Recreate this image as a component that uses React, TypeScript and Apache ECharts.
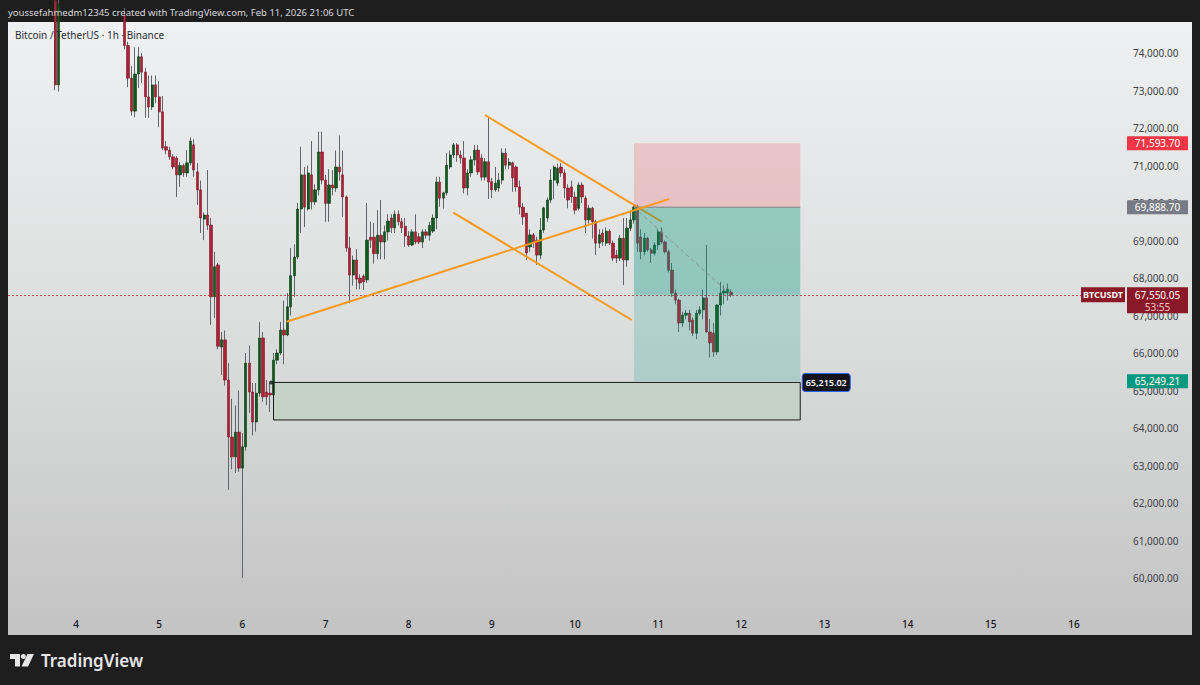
import React, { useEffect, useRef } from "react";
import * as echarts from "echarts";

// ---- data (hours are counted from Feb 4 00:00 UTC, one candle per hour) ----
const FIRST_HOUR = -6; // first listed candle: Feb 3 18:00 UTC
const N = null;

// idx13-14, 15-32 (above the visible range), then 33..208
const opens: (number | null)[] = [
  75400, 73150,
  N, N, N, N, N, N, N, N, N, N, N, N, N, N, N, N, N, N,
  75000, 74200, 73330, 72450, 73440, 73900, 73490, 72830, 72560, 73150,
  72830, 72430, 71500, 71410, 71230, 71200, 70750, 71000, 70800, 71070,
  71550, 70830, 70350, 69570, 69680, 69410, 67500, 68350, 66160, 66350,
  65280, 63760, 63230, 63890, 62930, 63500, 65730, 64960, 64160, 64930,
  66400, 64960, 64930, 64880, 65810, 66000, 66610, 66480, 67230, 68060,
  68560, 69840, 70750, 69840, 70750, 70030, 70350, 71360, 70610, 69990,
  70480, 70400, 70960, 70750, 70160, 68800, 68080, 68480, 68000, 68050,
  67950, 69090, 69090, 68650, 69140, 68960, 69230, 69600, 69340, 69700,
  69500, 69380, 69120, 68880, 69230, 69100, 68960, 69230, 69140, 69250,
  69600, 70560, 70130, 70270, 70960, 71280, 71550, 71280, 71200, 70400,
  70800, 71150, 71410, 71200, 70690, 71100, 70570, 70350, 70400, 70610,
  71330, 71010, 71070, 70960, 70430, 69890, 69730, 68830, 69150, 69010,
  68610, 69280, 69600, 70080, 70610, 70530, 70960, 70800, 70400, 70430,
  70160, 69860, 70480, 70130, 69550, 69860, 69500, 68930, 69200, 68930,
  69250, 68930, 68610, 68530, 69060, 68480, 69330, 69550, 69890, 69090,
  68700, 69060, 68750, 68660, 68880, 69230, 68960, 68700, 68210, 67600,
  67410, 66800, 67010, 67060, 66880, 66530, 67060, 67150, 67470, 66560,
  66530, 66030, 67280, 67600, 67600, 67620,
];
const highs: (number | null)[] = [
  75600, 75500,
  N, N, N, N, N, N, N, N, N, N, N, N, N, N, N, N, N, N,
  75200, 74300, 73650, 74150, 74150, 74000, 73600, 73400, 73400, 73400,
  73250, 72850, 71650, 71500, 71300, 71250, 71100, 71050, 71410, 71750,
  71700, 71070, 70600, 69750, 70880, 69600, 68700, 68400, 66560, 66600,
  65730, 64780, 64600, 65000, 63870, 66000, 66200, 65200, 65200, 66830,
  66560, 65280, 65200, 66000, 66100, 66830, 67400, 67600, 68800, 68900,
  70000, 71500, 70960, 71000, 71650, 70500, 71900, 71900, 70750, 70900,
  70880, 71400, 71800, 71400, 70200, 69100, 68600, 68770, 68100, 68100,
  70000, 69500, 69470, 69810, 70080, 69400, 69700, 69700, 69800, 69800,
  69600, 69600, 69250, 69300, 69700, 69200, 69300, 69300, 69500, 69700,
  70700, 70700, 70300, 71330, 71400, 71600, 71600, 71400, 71650, 70900,
  71250, 71550, 71550, 71300, 71200, 72290, 70670, 70960, 70800, 71460,
  71460, 71200, 71100, 71000, 70600, 70000, 69730, 69300, 69200, 69100,
  69600, 69900, 70150, 70900, 71000, 71050, 71070, 70900, 70500, 70600,
  70300, 70550, 70550, 70200, 69950, 69900, 69550, 69300, 69300, 69350,
  69300, 69000, 68750, 69150, 69600, 69600, 69800, 69950, 69950, 69300,
  69200, 69100, 68800, 68950, 69300, 69350, 69000, 68750, 68400, 67700,
  67450, 67100, 67150, 67150, 66950, 67150, 67250, 67700, 68880, 66900,
  66800, 67300, 67900, 67800, 67850, 67700,
];
const lows: (number | null)[] = [
  73010, 72970,
  N, N, N, N, N, N, N, N, N, N, N, N, N, N, N, N, N, N,
  74100, 73090, 72330, 72290, 73070, 73200, 72270, 72270, 72480, 72660,
  72020, 71410, 71300, 71150, 70900, 70160, 70430, 70700, 70700, 71000,
  70700, 69950, 69200, 69010, 69280, 66750, 66930, 66100, 65410, 65130,
  62350, 62900, 62800, 62830, 60000, 63400, 64400, 63800, 63900, 64830,
  64700, 64610, 64430, 64600, 65700, 65950, 65700, 66450, 67000, 67500,
  68500, 69200, 69360, 69800, 69830, 69950, 70200, 70500, 69500, 69500,
  70200, 70300, 70600, 69630, 68700, 67330, 67800, 67700, 67700, 67680,
  67870, 68800, 68380, 68500, 68500, 68500, 69000, 69200, 69200, 69400,
  69200, 68830, 68830, 68850, 68900, 68900, 68800, 69050, 69000, 69200,
  69300, 69900, 69850, 70200, 70900, 71200, 71100, 71050, 70260, 70200,
  70700, 71000, 70750, 70600, 70600, 70110, 70130, 70300, 70300, 70500,
  70900, 70900, 70300, 70300, 69700, 69420, 68480, 68700, 68800, 68350,
  68500, 69200, 69500, 70000, 70100, 70450, 70700, 70130, 69860, 70000,
  69700, 69800, 70000, 69200, 69450, 69050, 68610, 68800, 68850, 68850,
  68880, 68450, 68400, 68450, 67810, 68300, 69250, 69450, 68700, 68500,
  68600, 68700, 68400, 68600, 68750, 68900, 68650, 68150, 67500, 67300,
  66560, 66700, 66900, 66600, 66450, 66370, 67000, 66900, 66550, 65880,
  65900, 65950, 67000, 67300, 67400, 67500,
];
const closes: (number | null)[] = [
  73150, 75300,
  N, N, N, N, N, N, N, N, N, N, N, N, N, N, N, N, N, N,
  74200, 73330, 72450, 73440, 73900, 73490, 72830, 72560, 73150, 72830,
  72430, 71470, 71410, 71230, 70960, 70750, 71000, 70800, 71070, 71650,
  70880, 70350, 69600, 69680, 69410, 67500, 68300, 66180, 66350, 65280,
  63760, 63230, 63890, 62930, 63500, 65730, 64960, 64160, 64930, 66400,
  64830, 64830, 64880, 65810, 66000, 66610, 66480, 67230, 68060, 68560,
  69840, 70750, 69890, 70800, 70030, 70350, 71360, 70610, 69990, 70480,
  70400, 70960, 70830, 70160, 68800, 68080, 68480, 67970, 67870, 67900,
  69010, 69010, 68650, 69140, 68960, 69230, 69520, 69340, 69700, 69500,
  69340, 69120, 68880, 69230, 68960, 68960, 69230, 69140, 69400, 69600,
  70560, 70130, 70270, 71010, 71280, 71550, 71280, 71200, 70400, 70800,
  71150, 71410, 70830, 70690, 71100, 70560, 70350, 70530, 70610, 71330,
  71010, 71090, 70670, 70430, 69890, 69630, 68670, 69150, 68960, 68610,
  69280, 69870, 70080, 70610, 70960, 70930, 70800, 70400, 70080, 70160,
  69810, 70480, 70160, 69550, 69860, 69500, 68930, 69150, 68960, 69250,
  68930, 68530, 68530, 69060, 68480, 69330, 69550, 69890, 68930, 68700,
  69060, 68750, 68660, 68880, 69230, 68960, 68700, 68210, 67600, 67410,
  66800, 67010, 67060, 66830, 66530, 67060, 67150, 67470, 66560, 66270,
  66030, 67280, 67600, 67650, 67700, 67550.05,
];

const dayTicks = [0, 24, 48, 72, 96, 120, 144, 168, 192, 216, 240, 264, 288];
const dayLabels = ["4", "5", "6", "7", "8", "9", "10", "11", "12", "13", "14", "15", "16"];
const priceTicks = [
  60000, 61000, 62000, 63000, 64000, 65000, 66000, 67000,
  68000, 69000, 70000, 71000, 72000, 73000, 74000,
];

// visible window
const X_MIN = -19.62;
const X_MAX = 299.83;
const Y_MIN = 59146.7;
const Y_MAX = 74826.7;

// drawings (time in hours, price)
const ascLine = [[60.8, 66835], [171.2, 70107]];
const upperLine = [[118.0, 72347], [169.0, 69501]];
const lowerLine = [[108.9, 69741], [160.4, 66880]];

const positionStart = 161;
const positionEnd = 209;
const entryPrice = 69888.7;
const stopPrice = 71593.7;
const targetPrice = 65249.21;
const lastPrice = 67550.05;
const lastHour = 189;
const zoneStart = 57;
const zoneTop = 65215.02;
const zoneBottom = 64215;
const zoneDotHour = 56.3;

const FONT = '"Noto Sans", sans-serif';

const fmt = (v: number) =>
  v.toLocaleString("en-US", { minimumFractionDigits: 2, maximumFractionDigits: 2 });

function txt(text: string, x: number, y: number, fill: string, size: number, align = "left", weight: any = "normal", z = 100) {
  return {
    type: "text",
    z,
    silent: true,
    style: {
      text,
      x,
      y,
      fill,
      font: `${weight} ${size}px ${FONT}`,
      align,
      verticalAlign: "middle",
      textAlign: align,
      textVerticalAlign: "middle",
    },
  };
}

export default function App() {
  const ref = useRef<HTMLDivElement>(null);

  useEffect(() => {
    if (!ref.current) return;
    const chart = echarts.init(ref.current, undefined, { renderer: "svg" });

    const wickData: number[][] = [];
    const bodyData: number[][] = [];
    opens.forEach((o, i) => {
      const c = closes[i];
      if (o == null || c == null) return;
      const x = FIRST_HOUR + i;
      wickData.push([x, o, c, lows[i] as number, highs[i] as number]);
      bodyData.push([x, o, c, Math.min(o, c), Math.max(o, c)]);
    });

    const zoneRows = [
      [positionStart, positionEnd, entryPrice, stopPrice],
      [positionStart, positionEnd, targetPrice, entryPrice],
      [positionStart, positionEnd, lastPrice, entryPrice],
      [zoneStart, positionEnd, zoneBottom, zoneTop],
    ];
    const zoneFill = [
      "rgba(242,54,69,0.2)",
      "rgba(8,153,129,0.2)",
      "rgba(8,153,129,0.2)",
      "rgba(76,175,80,0.12)",
    ];
    const zoneStroke = [null, null, null, "#1a1a1a"];

    const orange = "#fb9a1c";

    chart.setOption({
      animation: false,
      backgroundColor: "transparent",
      grid: { left: 8, right: 85, top: 22, bottom: 75, containLabel: false },
      xAxis: {
        type: "value",
        min: X_MIN,
        max: X_MAX,
        splitLine: { show: false },
        axisLine: { show: false },
        axisTick: { show: false },
        axisLabel: {
          customValues: dayTicks,
          formatter: (v: number) => dayLabels[Math.round(v / 24)] ?? "",
          color: "#131722",
          fontFamily: FONT,
          fontSize: 10,
          fontWeight: 500,
          margin: 9,
        },
      },
      yAxis: {
        type: "value",
        position: "right",
        min: Y_MIN,
        max: Y_MAX,
        splitLine: { show: false },
        axisLine: { show: false },
        axisTick: { show: false },
        axisLabel: {
          customValues: priceTicks,
          formatter: (v: number) => fmt(v),
          color: "#3d3f45",
          fontFamily: FONT,
          fontSize: 10,
          margin: 18,
        },
      },
      series: [
        {
          type: "candlestick",
          name: "wicks",
          z: 2,
          barWidth: 1,
          data: wickData,
          itemStyle: {
            color: "#62656b",
            color0: "#62656b",
            borderColor: "#62656b",
            borderColor0: "#62656b",
            borderWidth: 1,
          },
          silent: true,
        },
        {
          type: "candlestick",
          name: "bodies",
          z: 3,
          barWidth: 2.8,
          data: bodyData,
          itemStyle: {
            color: "#0c5a1c",
            color0: "#ad2036",
            borderColor: "#083a12",
            borderColor0: "#7e1727",
            borderWidth: 0.6,
          },
          markLine: {
            silent: true,
            symbol: ["none", "none"],
            label: { show: false },
            lineStyle: { color: "#b8323f", type: [2, 2], width: 1, opacity: 0.9 },
            data: [{ yAxis: lastPrice }],
          },
          silent: true,
        },
        {
          type: "line",
          z: 4,
          data: upperLine,
          symbol: "none",
          lineStyle: { color: orange, width: 2 },
          silent: true,
        },
        {
          type: "line",
          z: 4,
          data: lowerLine,
          symbol: "none",
          lineStyle: { color: orange, width: 2 },
          silent: true,
        },
        {
          type: "custom",
          z: 5,
          silent: true,
          encode: { x: [0, 1], y: [2, 3] },
          data: zoneRows,
          renderItem: (params: any, api: any) => {
            const p1 = api.coord([api.value(0), api.value(3)]);
            const p2 = api.coord([api.value(1), api.value(2)]);
            const i = params.dataIndex;
            return {
              type: "rect",
              shape: { x: p1[0], y: p1[1], width: p2[0] - p1[0], height: p2[1] - p1[1] },
              style: {
                fill: zoneFill[i],
                stroke: zoneStroke[i] || "none",
                lineWidth: zoneStroke[i] ? 1 : 0,
              },
            };
          },
        },
        {
          type: "line",
          z: 6,
          data: [[positionStart, entryPrice], [positionEnd, entryPrice]],
          symbol: "none",
          lineStyle: { color: "#7d8087", width: 1 },
          silent: true,
        },
        {
          type: "line",
          z: 6,
          data: [[positionStart, entryPrice], [lastHour, lastPrice]],
          symbol: "none",
          lineStyle: { color: "#8c9096", width: 1, type: [4, 3] },
          silent: true,
        },
        {
          type: "line",
          z: 7,
          data: ascLine,
          symbol: "none",
          lineStyle: { color: orange, width: 2 },
          silent: true,
        },
        {
          type: "scatter",
          z: 8,
          data: [[zoneDotHour, zoneTop]],
          symbol: "circle",
          symbolSize: 4,
          itemStyle: { color: "#111" },
          silent: true,
        },
      ],
    });

    const toPx = (x: number, y: number) => chart.convertToPixel({ gridIndex: 0 }, [x, y]) as number[];
    const yOf = (p: number) => toPx(0, p)[1];

    const yStop = yOf(stopPrice);
    const yEntry = yOf(entryPrice);
    const yTarget = yOf(targetPrice);
    const yLast = yOf(lastPrice);
    const zonePx = toPx(positionEnd, zoneTop);

    const box = (x: number, y: number, w: number, h: number, fill: string, extra: any = {}) => ({
      type: "rect",
      z: 99,
      silent: true,
      shape: { x, y, width: w, height: h, r: extra.r || 0 },
      style: { fill, stroke: extra.stroke || "none", lineWidth: extra.lineWidth || 0 },
    });

    const g: any[] = [
      // header / title / footer
      txt("youssefahmedm12345 created with TradingView.com, Feb 11, 2026 21:06 UTC", 8, 12.5, "#d8d8d8", 9.5),
      txt("Bitcoin / TetherUS · 1h · Binance", 15, 35, "#2a2e39", 10),
      // TradingView logo
      {
        type: "polygon",
        z: 100,
        silent: true,
        shape: { points: [[10, 654], [20, 654], [20, 666.5], [15, 666.5], [15, 659], [10, 659]] },
        style: { fill: "#e6e6e6" },
      },
      { type: "circle", z: 100, silent: true, shape: { cx: 23.3, cy: 656.5, r: 2.5 }, style: { fill: "#e6e6e6" } },
      {
        type: "polygon",
        z: 100,
        silent: true,
        shape: { points: [[27.5, 654], [34, 654], [28, 666.5], [21.5, 666.5]] },
        style: { fill: "#e6e6e6" },
      },
      txt("TradingView", 41, 660.5, "#e6e6e6", 17, "left", 600),
      // price-axis labels
      box(1127, yStop - 7, 61, 14, "#f23645"),
      txt(fmt(stopPrice), 1157.5, yStop, "#ffffff", 10, "center"),
      box(1127, yEntry - 7, 61, 14, "#787b86"),
      txt(fmt(entryPrice), 1157.5, yEntry, "#ffffff", 10, "center"),
      box(1127, yTarget - 7, 61, 14, "#089981"),
      txt(fmt(targetPrice), 1157.5, yTarget, "#ffffff", 10, "center"),
      box(1127, yLast - 7.5, 61, 26, "#8a1827"),
      txt(fmt(lastPrice), 1157.5, yLast, "#ffffff", 10, "center"),
      txt("53:55", 1157.5, yLast + 12, "#f3c2c8", 10, "center"),
      box(1081, yLast - 7.5, 44, 15, "#8a1827"),
      txt("BTCUSDT", 1103, yLast, "#ffffff", 9, "center", 700),
      // rectangle price label
      box(zonePx[0] + 2, zonePx[1] - 9, 48, 18, "#101216", { r: 3, stroke: "#2962ff", lineWidth: 1 }),
      txt(fmt(zoneTop), zonePx[0] + 26, zonePx[1], "#ffffff", 9, "center", 600),
    ];

    chart.setOption({ graphic: { elements: g } });

    return () => chart.dispose();
  }, []);

  return (
    <div style={{ position: "fixed", left: 0, top: 0, width: 1200, height: 685, background: "#1e1e1e" }}>
      <div
        style={{
          position: "absolute",
          left: 8,
          top: 22,
          width: 1184,
          height: 613,
          background: "linear-gradient(to bottom, #eff0f1 0%, #dcdddd 50%, #c3c3c3 100%)",
        }}
      />
      <div ref={ref} style={{ position: "absolute", left: 0, top: 0, width: 1200, height: 685 }} />
    </div>
  );
}
